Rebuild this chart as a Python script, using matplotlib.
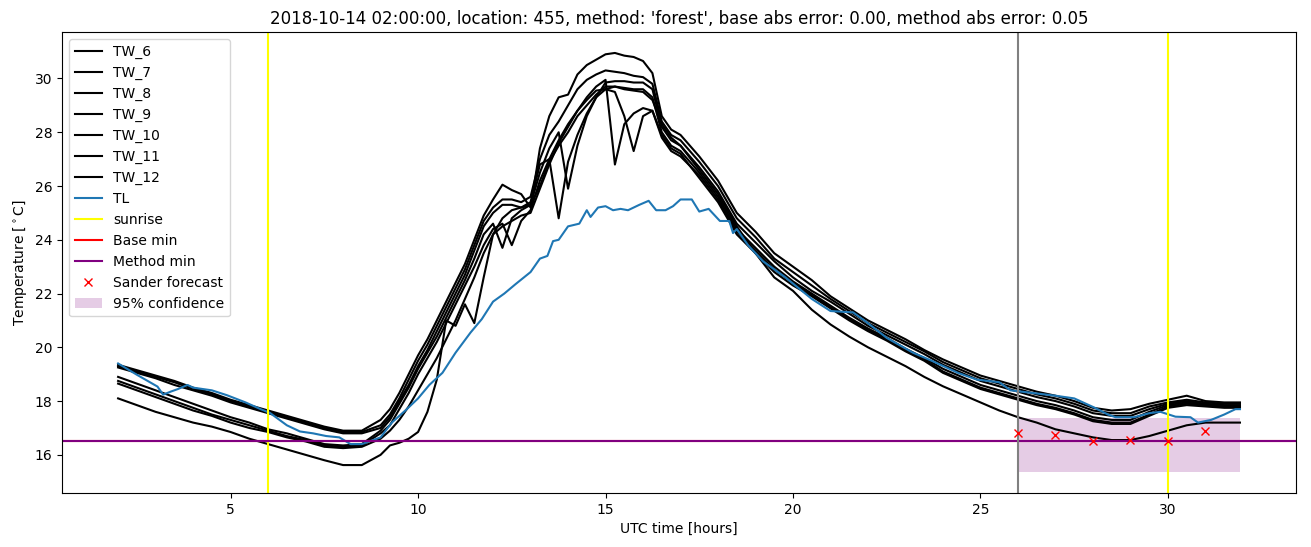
import matplotlib
matplotlib.use('Agg')
from matplotlib import pyplot as plt

# time axis of the TW series [hours]
hours = [2.0, 2.5, 3.0, 3.5, 4.0, 4.5, 5.0, 5.5, 6.0, 6.5, 7.0, 7.5, 8.0, 8.5, 9.0,
         9.25, 9.5, 9.75, 10.0, 10.25, 10.5, 10.75, 11.0, 11.25, 11.5, 11.75, 12.0,
         12.25, 12.5, 12.75, 13.0, 13.25, 13.5, 13.75, 14.0, 14.25, 14.5, 14.75, 15.0,
         15.25, 15.5, 15.75, 16.0, 16.25, 16.5, 16.75, 17.0,
         17.5, 18.0, 18.5, 19.0, 19.5, 20.0, 20.5, 21.0, 21.5, 22.0, 22.5, 23.0, 23.5,
         24.0, 24.5, 25.0, 25.5, 26.0, 26.5, 27.0, 27.5, 28.0, 28.5, 29.0, 29.5, 30.0,
         30.5, 31.0, 31.5, 31.92]

tw_6 = [19.35, 19.15, 18.95, 18.75, 18.5, 18.3, 18.05, 17.85, 17.65, 17.45, 17.25, 17.05, 16.9, 16.9, 17.3,
        17.7, 18.3, 19.0, 19.7, 20.3, 21.0, 21.7, 22.4, 23.1, 24.0, 24.9, 25.5, 26.05, 25.85, 25.7, 25.2,
        27.4, 28.6, 29.3, 29.4, 30.15, 30.5, 30.7, 30.9, 30.95, 30.85, 30.8, 30.65, 30.2, 28.6, 28.1, 27.9,
        27.1, 26.2, 25.0, 24.3, 23.5, 23.0, 22.5, 21.9, 21.45, 21.0, 20.65, 20.3, 19.9, 19.55, 19.25,
        18.95, 18.75, 18.55, 18.35, 18.2, 18.0, 17.75, 17.65, 17.7, 17.9, 18.05, 18.2, 18.0, 17.95, 17.95]
tw_7 = [19.3, 19.1, 18.9, 18.7, 18.45, 18.25, 18.0, 17.8, 17.6, 17.4, 17.2, 17.0, 16.85, 16.85, 17.1,
        17.5, 18.1, 18.8, 19.5, 20.1, 20.8, 21.5, 22.2, 22.9, 23.8, 24.7, 25.2, 25.5, 25.5, 25.4, 25.6,
        27.0, 27.9, 28.4, 29.0, 29.6, 29.95, 30.15, 30.3, 30.25, 30.2, 30.1, 30.05, 29.8, 28.4, 27.9, 27.7,
        26.9, 26.0, 24.8, 24.1, 23.3, 22.8, 22.3, 21.8, 21.35, 20.9, 20.55, 20.2, 19.85, 19.45, 19.15,
        18.85, 18.65, 18.45, 18.25, 18.1, 17.9, 17.65, 17.55, 17.55, 17.8, 17.95, 18.05, 17.95, 17.9, 17.9]
tw_8 = [19.25, 19.05, 18.85, 18.6, 18.4, 18.2, 17.95, 17.75, 17.55, 17.35, 17.15, 16.95, 16.8, 16.8, 17.0,
        17.4, 18.0, 18.6, 19.3, 19.9, 20.6, 21.3, 22.0, 22.7, 23.6, 24.5, 25.0, 25.3, 25.3, 25.2, 25.4,
        26.8, 27.0, 24.8, 26.9, 27.9, 28.7, 29.3, 29.85, 29.9, 29.9, 29.85, 29.85, 29.6, 28.2, 27.7, 27.5,
        26.7, 25.8, 24.6, 23.9, 23.2, 22.6, 22.1, 21.7, 21.25, 20.8, 20.45, 20.1, 19.75, 19.35, 19.05,
        18.75, 18.55, 18.35, 18.15, 18.0, 17.8, 17.55, 17.45, 17.45, 17.7, 17.9, 18.0, 17.9, 17.85, 17.85]
tw_9 = [18.9, 18.65, 18.4, 18.15, 17.9, 17.65, 17.4, 17.2, 16.95, 16.8, 16.6, 16.4, 16.35, 16.4, 16.9,
        17.3, 17.9, 18.5, 19.2, 19.8, 20.4, 21.1, 21.8, 22.5, 23.3, 24.2, 24.6, 23.7, 24.8, 25.1, 25.3,
        26.5, 27.4, 28.0, 25.9, 27.5, 28.6, 29.3, 29.6, 29.7, 29.65, 29.6, 29.6, 29.3, 28.0, 27.5, 27.3,
        26.5, 25.6, 24.4, 23.7, 23.0, 22.45, 22.0, 21.55, 21.1, 20.7, 20.35, 19.95, 19.6, 19.2, 18.9,
        18.6, 18.4, 18.2, 18.0, 17.85, 17.65, 17.4, 17.3, 17.3, 17.6, 17.85, 17.95, 17.85, 17.8, 17.8]
tw_10 = [18.75, 18.5, 18.25, 18.0, 17.75, 17.5, 17.3, 17.1, 16.9, 16.7, 16.55, 16.35, 16.3, 16.35, 16.8,
         17.1, 17.7, 18.3, 19.0, 19.6, 20.2, 20.9, 21.6, 22.3, 23.0, 23.8, 24.4, 24.6, 23.8, 24.7, 25.1,
         26.2, 27.0, 27.7, 28.3, 28.8, 29.3, 29.7, 29.95, 26.8, 28.3, 28.7, 28.9, 28.8, 27.8, 27.3, 27.1,
         26.4, 25.5, 24.3, 23.6, 22.9, 22.4, 21.95, 21.5, 21.05, 20.65, 20.3, 19.9, 19.55, 19.1, 18.8,
         18.5, 18.3, 18.1, 17.9, 17.75, 17.55, 17.3, 17.2, 17.2, 17.5, 17.8, 17.9, 17.85, 17.8, 17.8]
tw_11 = [18.65, 18.4, 18.15, 17.9, 17.65, 17.45, 17.2, 17.0, 16.85, 16.65, 16.5, 16.3, 16.25, 16.3, 16.6,
         16.9, 17.3, 17.8, 18.4, 19.0, 19.6, 20.3, 21.0, 21.8, 22.6, 23.5, 24.2, 24.5, 24.7, 24.9, 25.0,
         25.9, 26.8, 27.6, 28.2, 28.8, 29.2, 29.55, 29.6, 29.5, 28.6, 27.3, 28.6, 28.8, 27.9, 27.4, 27.2,
         26.3, 25.4, 24.2, 23.5, 22.8, 22.3, 21.9, 21.45, 21.0, 20.6, 20.25, 19.85, 19.5, 19.05, 18.75,
         18.45, 18.25, 18.05, 17.85, 17.7, 17.5, 17.25, 17.15, 17.15, 17.45, 17.75, 17.85, 17.8, 17.75, 17.75]
tw_12 = [18.1, 17.85, 17.6, 17.4, 17.2, 17.05, 16.85, 16.6, 16.4, 16.2, 16.0, 15.8, 15.62, 15.62, 16.0,
         16.35, 16.45, 16.6, 16.85, 17.6, 18.8, 21.0, 20.8, 21.6, 20.9, 22.6, 24.2, 24.8, 25.1, 25.2, 25.3,
         26.0, 26.9, 27.5, 28.0, 28.6, 29.0, 29.4, 29.7, 29.7, 29.6, 29.55, 29.5, 29.2, 28.3, 27.8, 27.5,
         26.6, 25.7, 24.5, 23.5, 22.6, 22.1, 21.4, 20.85, 20.4, 20.0, 19.65, 19.3, 18.9, 18.55, 18.25,
         17.95, 17.65, 17.4, 17.2, 16.95, 16.8, 16.65, 16.55, 16.55, 16.7, 16.9, 17.1, 17.2, 17.2, 17.2]

tw_names = ['TW_6', 'TW_7', 'TW_8', 'TW_9', 'TW_10', 'TW_11', 'TW_12']
tw_all = [tw_6, tw_7, tw_8, tw_9, tw_10, tw_11, tw_12]

# TL series has its own time stamps
tl_hours = [2.0, 2.5, 3.05, 3.2, 3.4, 3.6, 3.85, 4.0, 4.5, 4.9, 5.4, 5.8, 6.05, 6.5, 6.85, 7.2, 7.55,
            7.9, 8.2, 8.5, 8.8, 9.0, 9.3, 9.7, 10.0, 10.3, 10.65, 11.0, 11.4, 11.7, 12.0, 12.3, 12.6,
            13.0, 13.25, 13.45, 13.6, 13.75, 14.0, 14.3, 14.5, 14.6, 14.8, 15.0, 15.2, 15.4, 15.6, 15.9,
            16.15, 16.35, 16.6, 16.8, 17.0, 17.3, 17.5, 17.75, 18.05, 18.3, 18.4, 18.5, 18.8, 19.2, 19.5,
            19.8, 20.5, 21.0, 21.6, 21.95, 22.5, 23.2, 23.7, 24.4, 24.9, 25.5, 25.8, 26.4, 27.0, 27.5,
            28.05, 28.4, 28.6, 29.1, 29.5, 29.8, 30.2, 30.6, 30.8, 31.15, 31.5, 31.8, 31.92]
tl = [19.4, 18.98, 18.54, 18.24, 18.35, 18.45, 18.6, 18.5, 18.4, 18.22, 17.95, 17.7, 17.56, 17.1, 16.87,
      16.8, 16.7, 16.65, 16.4, 16.4, 16.55, 16.65, 17.2, 17.7, 18.1, 18.6, 19.05, 19.8, 20.55, 21.05,
      21.7, 22.0, 22.35, 22.8, 23.3, 23.4, 23.95, 24.0, 24.5, 24.6, 25.1, 24.85, 25.2, 25.25, 25.1,
      25.15, 25.1, 25.3, 25.45, 25.1, 25.1, 25.25, 25.5, 25.5, 25.05, 25.15, 24.7, 24.7, 24.25, 24.4,
      23.8, 23.2, 22.9, 22.6, 21.8, 21.35, 21.3, 20.95, 20.35, 19.8, 19.5, 19.05, 18.8, 18.7, 18.4,
      18.3, 18.2, 18.1, 17.75, 17.5, 17.4, 17.4, 17.55, 17.6, 17.42, 17.4, 17.2, 17.3, 17.5, 17.7, 17.7]

sunrise = [6, 30]
forecast_start = 26
base_min = 16.5
method_min = 16.5

sander_hours = [26, 27, 28, 29, 30, 31]
sander = [16.8, 16.75, 16.5, 16.55, 16.5, 16.9]

conf_hours = [26, 31.92]
conf_low = [15.36, 15.36]
conf_high = [17.38, 17.38]


fig, ax = plt.subplots(figsize=(13.11, 5.47), dpi=100)
fig.subplots_adjust(left=0.0473, right=0.9886, top=0.9415, bottom=0.0987)

for name, vals in zip(tw_names, tw_all):
    ax.plot(hours, vals, color='black', label=name)
ax.plot(tl_hours, tl, label='TL')

for i, h in enumerate(sunrise):
    ax.axvline(h, color='yellow', label='sunrise' if i == 0 else None)
ax.axhline(base_min, color='red', label='Base min')
ax.axhline(method_min, color='purple', label='Method min')
ax.axvline(forecast_start, color='grey')
ax.plot(sander_hours, sander, 'rx', label='Sander forecast')
ax.fill_between(conf_hours, conf_low, conf_high, color='purple', alpha=0.2,
                linewidth=0, label='95% confidence')

ax.set_title("2018-10-14 02:00:00, location: 455, method: 'forest', "
             "base abs error: 0.00, method abs error: 0.05")
ax.set_xlabel('UTC time [hours]')
ax.set_ylabel(r'Temperature [$^\circ$C]')
ax.legend(loc='upper left')

fig.savefig('out.png', dpi=100)
